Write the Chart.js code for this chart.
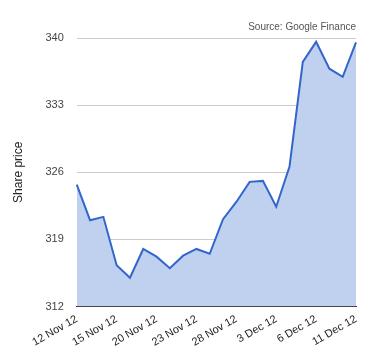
<!DOCTYPE html>
<html>
<head>
<meta charset="utf-8">
<script src="https://cdn.jsdelivr.net/npm/chart.js@4/dist/chart.umd.min.js"></script>
<style>
  html, body { margin: 0; padding: 0; background: #fff; }
  #wrap { width: 380px; height: 360px; position: relative; }
</style>
</head>
<body>
<div id="wrap"><canvas id="c" width="380" height="360"></canvas></div>
<script>
const dates = ["12 Nov 12","13 Nov 12","14 Nov 12","15 Nov 12","16 Nov 12","19 Nov 12","20 Nov 12","21 Nov 12","22 Nov 12","23 Nov 12","26 Nov 12","27 Nov 12","28 Nov 12","29 Nov 12","30 Nov 12","3 Dec 12","4 Dec 12","5 Dec 12","6 Dec 12","7 Dec 12","10 Dec 12","11 Dec 12"];
const sharePrice = [324.7,321.0,321.35,316.3,315.0,318.0,317.2,316.0,317.3,318.0,317.5,321.1,322.9,325.0,325.1,322.4,326.6,337.5,339.6,336.8,335.95,339.55];
const yTicks = [312,319,326,333,340];
const labelEvery = 3;
const sourceText = "Source: Google Finance";
const yTitle = "Share price";

const FONT = "Arial, 'Liberation Sans', sans-serif";

new Chart(document.getElementById('c'), {
  type: 'line',
  data: {
    labels: dates,
    datasets: [{
      data: sharePrice,
      borderColor: '#3366cc',
      backgroundColor: '#c0d0ef',
      borderWidth: 2,
      fill: 'start',
      tension: 0,
      pointRadius: 0,
      pointHoverRadius: 0
    }]
  },
  options: {
    responsive: false,
    animation: false,
    layout: { padding: { top: 0, right: 24, bottom: 5, left: 11 } },
    plugins: {
      legend: { display: false },
      tooltip: { enabled: false },
      title: {
        display: true,
        text: sourceText,
        align: 'end',
        color: '#555',
        font: { family: FONT, size: 10, weight: 'normal' },
        padding: { top: 21, bottom: 5 }
      }
    },
    scales: {
      x: {
        grid: { display: false, drawTicks: false },
        border: { display: true, color: '#333', width: 1 },
        ticks: {
          autoSkip: false,
          maxRotation: 30,
          minRotation: 30,
          color: '#222',
          font: { family: FONT, size: 11 },
          padding: 6,
          callback: function(v, i) { return i % labelEvery === 0 ? dates[i] : null; }
        }
      },
      y: {
        min: yTicks[0],
        max: yTicks[yTicks.length - 1],
        afterBuildTicks: function(axis) { axis.ticks = yTicks.map(v => ({ value: v })); },
        grid: {
          drawTicks: false,
          color: function(ctx) { return ctx.tick && ctx.tick.value === yTicks[0] ? '#333' : '#cccccc'; }
        },
        border: { display: false },
        ticks: {
          color: '#444',
          font: { family: FONT, size: 11 },
          padding: 13
        },
        title: {
          display: true,
          text: yTitle,
          color: '#222',
          font: { family: FONT, size: 12 },
          padding: { top: 0, bottom: 7 }
        }
      }
    }
  }
});
</script>
</body>
</html>
